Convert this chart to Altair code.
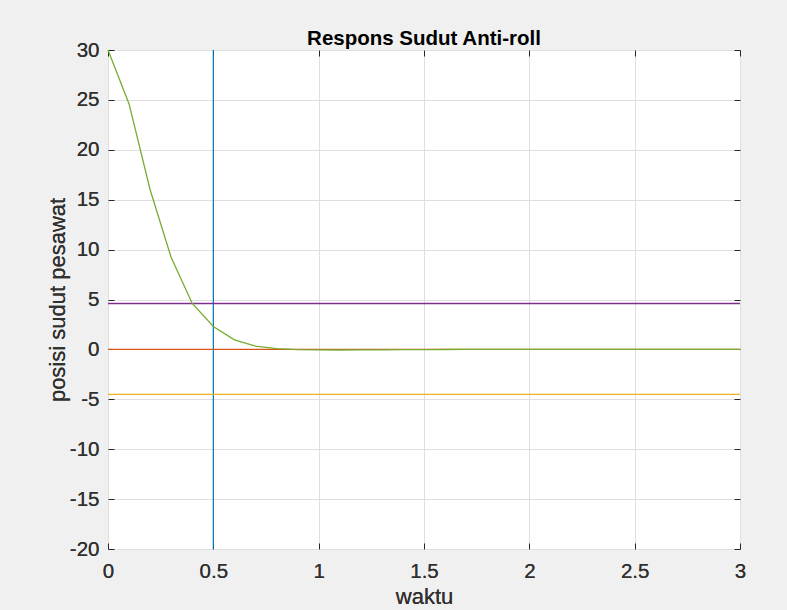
import altair as alt
import pandas as pd

# ---- data ----
waktu = [0.0, 0.1, 0.2, 0.3, 0.4, 0.5, 0.6, 0.7, 0.8, 0.9, 1.0,
         1.1, 1.2, 1.3, 1.4, 1.5, 1.6, 1.7, 1.8, 1.9, 2.0,
         2.1, 2.2, 2.3, 2.4, 2.5, 2.6, 2.7, 2.8, 2.9, 3.0]
sudut = [30.0, 24.6, 16.0, 9.2, 4.6, 2.3, 0.95, 0.33, 0.08, -0.02, -0.05,
         -0.06, -0.05, -0.04, -0.03, -0.02, -0.01, 0.0, 0.0, 0.0, 0.0,
         0.0, 0.0, 0.0, 0.0, 0.0, 0.0, 0.0, 0.0, 0.0, 0.0]
garis_vertikal = [0.5]
garis_horizontal = [4.6, 0.0, -4.5]
warna_horizontal = ["#7E2F8E", "#D95319", "#EDB120"]
x_ticks = [0, 0.5, 1, 1.5, 2, 2.5, 3]
y_ticks = [-20, -15, -10, -5, 0, 5, 10, 15, 20, 25, 30]

FONT = "Liberation Sans"
LABEL_EXPR = "datum.value < 0 ? '-' + format(-datum.value, '~g') : format(datum.value, '~g')"

df_line = pd.DataFrame({"waktu": waktu, "sudut": sudut})
df_v = pd.DataFrame({"x": garis_vertikal})

xs = alt.Scale(domain=[0, 3], nice=False, zero=False)
ys = alt.Scale(domain=[-20, 30], nice=False, zero=False)

vert = alt.Chart(df_v).mark_rule(color="#0072BD", strokeWidth=1.2).encode(
    x=alt.X("x:Q", scale=xs, axis=None)
)
horiz_layers = [
    alt.Chart(pd.DataFrame({"y": [v]})).mark_rule(color=c, strokeWidth=1.3).encode(
        y=alt.Y("y:Q", scale=ys, axis=None)
    )
    for v, c in zip(garis_horizontal, warna_horizontal)
]

main = alt.Chart(df_line).mark_line(color="#77AC30", strokeWidth=1.3).encode(
    x=alt.X("waktu:Q", scale=xs, title="waktu",
            axis=alt.Axis(orient="bottom", values=x_ticks, grid=True, gridColor="#dfdfdf",
                          ticks=False, tickSize=0, domain=False, labelPadding=12,
                          labelExpr=LABEL_EXPR,
                          labelFontSize=20.5, labelFont=FONT, labelColor="#303030",
                          titleFontSize=22, titleFont=FONT, titleColor="#303030",
                          titleFontWeight="normal", titlePadding=5, labelFlush=False)),
    y=alt.Y("sudut:Q", scale=ys, title="posisi sudut pesawat",
            axis=alt.Axis(orient="left", values=y_ticks, grid=True, gridColor="#dfdfdf",
                          ticks=False, tickSize=0, domain=False, labelPadding=9,
                          labelExpr=LABEL_EXPR,
                          labelFontSize=20.5, labelFont=FONT, labelColor="#303030",
                          titleFontSize=22, titleFont=FONT, titleColor="#303030",
                          titleFontWeight="normal", titlePadding=0, labelFlush=False)),
)


def tick_layer(xo, yo):
    return alt.Chart(df_line).mark_line(opacity=0).encode(
        x=alt.X("waktu:Q", scale=xs, title=None,
                axis=alt.Axis(orient=xo, values=x_ticks, grid=False, labels=False, domain=False,
                              ticks=True, tickSize=6, offset=-6, tickColor="#262626")),
        y=alt.Y("sudut:Q", scale=ys, title=None,
                axis=alt.Axis(orient=yo, values=y_ticks, grid=False, labels=False, domain=False,
                              ticks=True, tickSize=6, offset=-6, tickColor="#262626")),
    )


chart = alt.layer(
    main.mark_line(opacity=0),
    vert, *horiz_layers, main,
    tick_layer("bottom", "left"), tick_layer("top", "right"),
).resolve_axis(x="independent", y="independent").properties(
    width=632, height=499,
    title=alt.TitleParams("Respons Sudut Anti-roll", fontSize=20.5, font=FONT, fontWeight="bold",
                          color="#000000", anchor="middle", offset=-9),
    autosize=alt.AutoSizeParams(type="none"),
    padding={"left": 108, "top": 50, "right": 47, "bottom": 61},
    background="#f0f0f0",
).configure_view(fill="white", stroke="#404040", strokeWidth=1)

chart.save("out.html", embed_options={"renderer": "svg", "actions": False})
